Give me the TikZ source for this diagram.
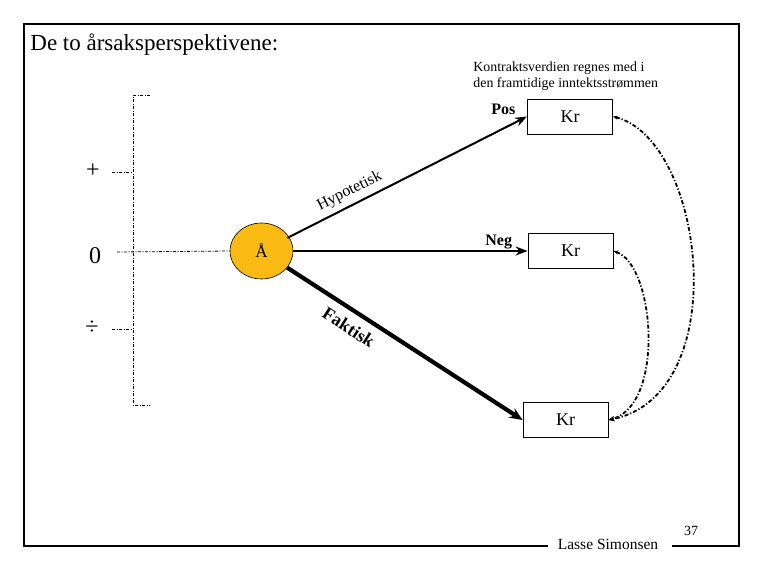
\documentclass[tikz,border=0pt]{standalone}
\usepackage{fontspec}
\setmainfont{Liberation Serif}
\usetikzlibrary{arrows.meta,shapes.geometric}
\definecolor{aafill}{RGB}{250,186,20}

\begin{document}
\begin{tikzpicture}[x=1pt, y=-1pt, >=Stealth, line width=0.8pt,
    krbox/.style={draw, line width=0.8pt, minimum width=85, minimum height=35, inner sep=0pt, font=\fontsize{18}{20}\selectfont},
    dashdot/.style={line width=0.8pt, dash pattern=on 3pt off 1.5pt on 1pt off 1.5pt},
    curvy/.style={line width=1.8pt, dash pattern=on 4pt off 2pt on 1.2pt off 2pt, {Stealth[length=5pt,width=4pt]}-{Stealth[length=6pt,width=5pt]}}]
    \useasboundingbox (0,0) rectangle (765,570);

    % Frame
    \draw[line width=1.2pt] (548,546) -- (24,546) -- (24,24) -- (739,24) -- (739,546) -- (672,546);
    \node[anchor=base west, font=\fontsize{23}{26}\selectfont, inner sep=0pt] (title) at (30,50) {De to årsaksperspektivene:};
    \node[anchor=base west, font=\fontsize{13.9}{15}\selectfont, inner sep=0pt] (note1) at (473,71) {Kontraktsverdien regnes med i};
    \node[anchor=base west, font=\fontsize{13.9}{15}\selectfont, inner sep=0pt] (note2) at (473,87) {den framtidige inntektsstrømmen};
    \node[anchor=base, font=\fontsize{15.5}{17}\selectfont, inner sep=0pt] (author) at (608,549) {Lasse Simonsen};
    \node[anchor=base, font=\fontsize{14}{16}\selectfont, inner sep=0pt] (page) at (691,535) {37};

    % Scale on the left
    \node[font=\fontsize{24}{26}\selectfont, inner sep=0pt] (plus) at (93,171) {+};
    \node[font=\fontsize{24}{26}\selectfont, inner sep=0pt] (zero) at (95,256) {0};
    \node[font=\fontsize{24}{26}\selectfont, inner sep=0pt] (minus) at (92,328) {÷};
    \coordinate (btop) at (133,95);
    \coordinate (bbot) at (133,405);
    \draw[dashdot] (150,95) -- (btop) -- (bbot) -- (150,405);
    \draw[dashdot] (112,172) -- (133,172);
    \draw[dashdot] (112,329) -- (133,329);

    % Choice node
    \node[ellipse, draw, line width=0.6pt, fill=aafill, minimum width=63, minimum height=56, inner sep=0pt,
        font=\fontsize{17}{19}\selectfont] (aa) at (261.5,251) {Å};
    \draw[dashdot] (117,252) -- (aa.west);

    % Outcomes
    \node[krbox] (kr1) at (570,116.5) {Kr};
    \node[krbox] (kr2) at (570.5,251) {Kr};
    \node[krbox] (kr3) at (565.5,420) {Kr};

    \draw[->, line width=2pt, shorten <=-2pt] (aa) -- node[pos=0.28, above=2pt, sloped, font=\fontsize{16}{18}\selectfont] {Hypotetisk} (kr1.west);
    \draw[->, line width=2pt] (aa) -- (kr2.west);
    \draw[-{Stealth[length=13pt,width=11pt]}, line width=4.2pt] (aa) -- node[pos=0.3, below=5pt, sloped, font=\bfseries\fontsize{18}{20}\selectfont] {Faktisk} (kr3.west);
    \node[anchor=base west, font=\bfseries\fontsize{16}{18}\selectfont, inner sep=0pt] (pos) at (491,114) {Pos};
    \node[anchor=base west, font=\bfseries\fontsize{16}{18}\selectfont, inner sep=0pt] (neg) at (485,245) {Neg};

    % Links between outcomes
    \draw[curvy] (kr1.east) .. controls (705,140) and (735,395) .. (kr3.east);
    \draw[curvy] (kr2.east) .. controls (655,265) and (665,405) .. (kr3.east);
\end{tikzpicture}
\end{document}
